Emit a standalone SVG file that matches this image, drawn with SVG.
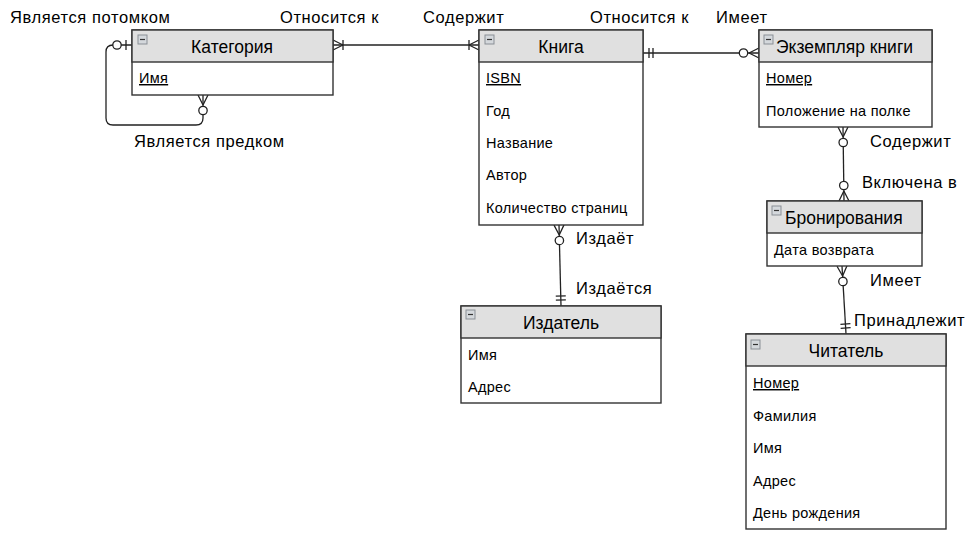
<svg xmlns="http://www.w3.org/2000/svg" width="972" height="539" viewBox="0 0 972 539">
<style>
text{font-family:"Liberation Sans",Arial,sans-serif;fill:#000}
.box{fill:#fff;stroke:#333;stroke-width:1.4}
.hdr{fill:#e0e0e0;stroke:#333;stroke-width:1.4}
.title{font-size:17.5px}
.attr{font-size:14.5px;letter-spacing:0.3px}
.lbl{font-size:16.5px;letter-spacing:0.6px}
.key{text-decoration:underline}
.icon{fill:#d4d8dc;stroke:#8a8f96;stroke-width:1}
.minus{stroke:#333;stroke-width:1.2}
.conn{fill:none;stroke:#222;stroke-width:1.3}
.mk{fill:none;stroke:#222;stroke-width:1.3}
.mc{fill:#fff;stroke:#222;stroke-width:1.3}
</style>
<defs>
<marker id="oneMany" viewBox="-22 -11 24 22" refX="0" refY="0" markerWidth="24" markerHeight="22" markerUnits="userSpaceOnUse" orient="auto-start-reverse" overflow="visible">
<path class="mk" d="M-10,0 L0,-5 M-10,0 L0,5 M-10,-5 V5"/>
</marker>
<marker id="zeroMany" viewBox="-22 -11 24 22" refX="0" refY="0" markerWidth="24" markerHeight="22" markerUnits="userSpaceOnUse" orient="auto-start-reverse" overflow="visible">
<path class="mk" d="M-10,0 L0,-5 M-10,0 L0,5"/>
<circle class="mc" cx="-15.5" cy="0" r="4.2"/>
</marker>
<marker id="mandOne" viewBox="-22 -11 24 22" refX="0" refY="0" markerWidth="24" markerHeight="22" markerUnits="userSpaceOnUse" orient="auto-start-reverse" overflow="visible">
<path class="mk" d="M-6,-5 V5 M-10,-5 V5"/>
</marker>
<marker id="zeroOne" viewBox="-22 -11 24 22" refX="0" refY="0" markerWidth="24" markerHeight="22" markerUnits="userSpaceOnUse" orient="auto-start-reverse" overflow="visible">
<path class="mk" d="M-6,-5 V5"/>
<circle class="mc" cx="-15" cy="0" r="4.2"/>
</marker>
</defs>
<rect width="972" height="539" fill="#fff"/>

<g id="connectors">
<path class="conn" d="M333,45 L479,45" marker-start="url(#oneMany)" marker-end="url(#oneMany)"/>
<path class="conn" d="M643,53 L759,53" marker-start="url(#mandOne)" marker-end="url(#zeroMany)"/>
<path class="conn" d="M132,45 H113 Q106,45 106,52 V118 Q106,125 113,125 H196 Q203,125 203,118 V95" marker-start="url(#zeroOne)" marker-end="url(#zeroMany)"/>
<path class="conn" d="M559,225 L561,306" marker-start="url(#zeroMany)" marker-end="url(#mandOne)"/>
<path class="conn" d="M843,127 L844,201" marker-start="url(#zeroMany)" marker-end="url(#zeroMany)"/>
<path class="conn" d="M842,266 L846,334" marker-start="url(#zeroMany)" marker-end="url(#mandOne)"/>
</g>

<g id="labels">
<text class="lbl" x="10" y="23">Является потомком</text>
<text class="lbl" x="280" y="23">Относится к</text>
<text class="lbl" x="423" y="23">Содержит</text>
<text class="lbl" x="590" y="23">Относится к</text>
<text class="lbl" x="716" y="23">Имеет</text>
<text class="lbl" x="134" y="147">Является предком</text>
<text class="lbl" x="870" y="147">Содержит</text>
<text class="lbl" x="862" y="188">Включена в</text>
<text class="lbl" x="576" y="244">Издаёт</text>
<text class="lbl" x="576" y="294">Издаётся</text>
<text class="lbl" x="870" y="286">Имеет</text>
<text class="lbl" x="854" y="326">Принадлежит</text>
</g>

<g id="kategoriya">
<rect class="box" x="132" y="30" width="201" height="65"/>
<rect class="hdr" x="132" y="30" width="201" height="32"/>
<rect class="icon" x="138" y="35" width="9" height="9"/><path class="minus" d="M140,39.5 H145"/>
<text class="title" x="232" y="53" text-anchor="middle">Категория</text>
<text class="attr key" x="139" y="83">Имя</text>
</g>

<g id="kniga">
<rect class="box" x="479" y="30" width="164" height="195"/>
<rect class="hdr" x="479" y="30" width="164" height="32"/>
<rect class="icon" x="485" y="35" width="9" height="9"/><path class="minus" d="M487,39.5 H492"/>
<text class="title" x="561" y="53" text-anchor="middle">Книга</text>
<text class="attr key" x="486" y="83">ISBN</text>
<text class="attr" x="486" y="116">Год</text>
<text class="attr" x="486" y="148">Название</text>
<text class="attr" x="486" y="180">Автор</text>
<text class="attr" x="486" y="213">Количество страниц</text>
</g>

<g id="ekzemplyar">
<rect class="box" x="759" y="30" width="173" height="97"/>
<rect class="hdr" x="759" y="30" width="173" height="32"/>
<rect class="icon" x="764" y="35" width="9" height="9"/><path class="minus" d="M766,39.5 H771"/>
<text class="title" x="776" y="53">Экземпляр книги</text>
<text class="attr key" x="766" y="83">Номер</text>
<text class="attr" x="766" y="116">Положение на полке</text>
</g>

<g id="bronirovaniya">
<rect class="box" x="767" y="201" width="155" height="65"/>
<rect class="hdr" x="767" y="201" width="155" height="32"/>
<rect class="icon" x="772" y="206" width="9" height="9"/><path class="minus" d="M774,210.5 H779"/>
<text class="title" x="785" y="224">Бронирования</text>
<text class="attr" x="774" y="255">Дата возврата</text>
</g>

<g id="izdatel">
<rect class="box" x="461" y="306" width="200" height="97"/>
<rect class="hdr" x="461" y="306" width="200" height="32"/>
<rect class="icon" x="466" y="310" width="9" height="9"/><path class="minus" d="M468,314.5 H473"/>
<text class="title" x="561" y="329" text-anchor="middle">Издатель</text>
<text class="attr" x="468" y="360">Имя</text>
<text class="attr" x="468" y="392">Адрес</text>
</g>

<g id="chitatel">
<rect class="box" x="746" y="334" width="200" height="195"/>
<rect class="hdr" x="746" y="334" width="200" height="32"/>
<rect class="icon" x="751" y="340" width="9" height="9"/><path class="minus" d="M753,344.5 H758"/>
<text class="title" x="846" y="357" text-anchor="middle">Читатель</text>
<text class="attr key" x="753" y="388">Номер</text>
<text class="attr" x="753" y="421">Фамилия</text>
<text class="attr" x="753" y="453">Имя</text>
<text class="attr" x="753" y="486">Адрес</text>
<text class="attr" x="753" y="518">День рождения</text>
</g>
</svg>
